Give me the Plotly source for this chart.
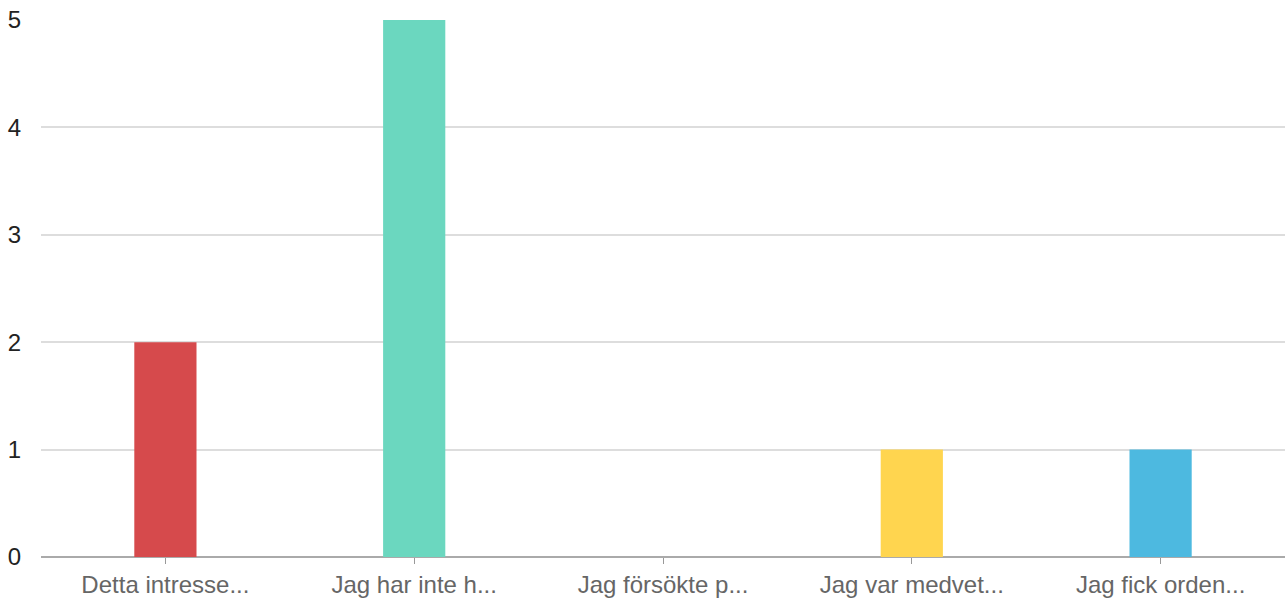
import plotly.graph_objects as go

categories = ["Detta intresse...", "Jag har inte h...", "Jag försökte p...", "Jag var medvet...", "Jag fick orden..."]
values = [2, 5, 0, 1, 1]
colors = ["#d64a4c", "#6bd7bf", "#aaaaaa", "#ffd54f", "#4db9e0"]

fig = go.Figure(go.Bar(
    x=categories, y=values, marker=dict(color=colors, line=dict(width=0)),
    width=0.25, hoverinfo="x+y"
))

fig.update_layout(
    width=1285, height=612,
    margin=dict(l=41, r=0, t=20, b=55),
    paper_bgcolor="white", plot_bgcolor="white",
    font=dict(family="Liberation Sans, Arial, sans-serif"),
    showlegend=False,
    bargap=0.75,
)
fig.update_xaxes(
    showgrid=False, ticks="outside", ticklen=6, tickcolor="#999999", tickwidth=1,
    tickfont=dict(size=24, color="#666666"), showline=False, automargin=False,
)
fig.update_yaxes(
    range=[0, 5], dtick=1, showgrid=True, gridcolor="#dddddd", gridwidth=2,
    zeroline=True, zerolinecolor="#aaaaaa", zerolinewidth=2, automargin=False,
    tickfont=dict(size=24, color="#222222"), ticklabelstandoff=19,
)
fig.write_html("out.html", config={"displayModeBar": False},
               post_script="document.body.style.margin='0';")
